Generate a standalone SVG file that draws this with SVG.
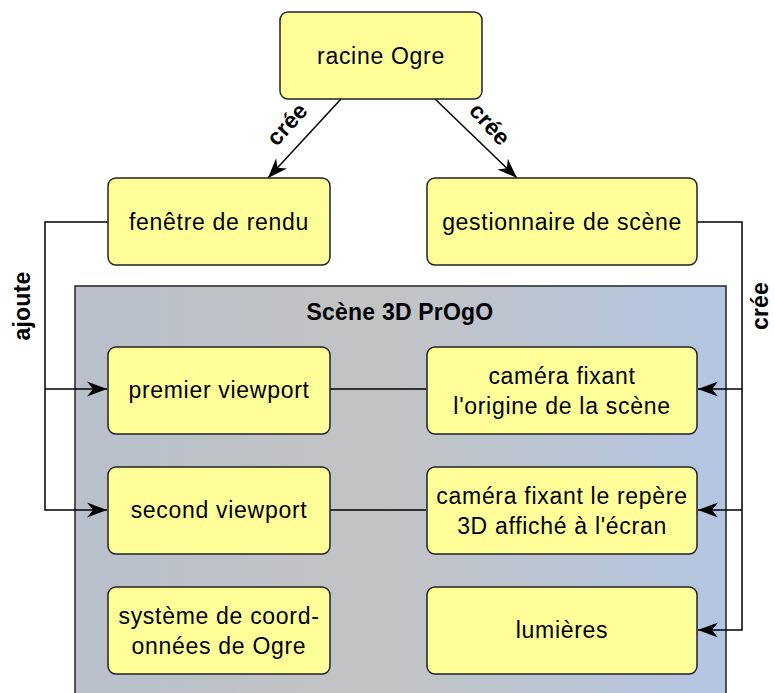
<svg xmlns="http://www.w3.org/2000/svg" width="774" height="693" viewBox="0 0 774 693">
<defs>
<linearGradient id="cg" x1="0" y1="0" x2="1" y2="0">
<stop offset="0" stop-color="#b8c0cc"/>
<stop offset="0.45" stop-color="#c3c3c3"/>
<stop offset="1" stop-color="#b3c6e2"/>
</linearGradient>
<marker id="ah" viewBox="-21 -8 22 16" refX="0" refY="0" markerWidth="22" markerHeight="16" markerUnits="userSpaceOnUse" orient="auto">
<path d="M0,0 L-20,-7.5 L-14,0 L-20,7.5 Z" fill="#000"/>
</marker>
<style>
.n rect{fill:#ffff99;stroke:#222;stroke-width:1.5}
.t{font-family:"Liberation Sans",Arial,sans-serif;font-size:23px;fill:#000;text-anchor:middle;letter-spacing:0.7px}
.b{font-weight:bold;letter-spacing:0.2px}
.c{fill:none;stroke:#000;stroke-width:1.5}
</style>
</defs>
<rect width="774" height="693" fill="#fff"/>
<g id="scene">
<rect x="75" y="286" width="651" height="420" fill="url(#cg)" stroke="#222" stroke-width="1.5"/>
<text class="t b" x="400" y="320">Scène 3D PrOgO</text>
</g>
<g id="connectors">
<path class="c" d="M341,99 L268,178" marker-end="url(#ah)"/>
<path class="c" d="M435,99 L517,178" marker-end="url(#ah)"/>
<path class="c" d="M108,222 H45 V510 H107" marker-end="url(#ah)"/>
<path class="c" d="M45,389 H107" marker-end="url(#ah)"/>
<path class="c" d="M697,222 H742 V630 H698" marker-end="url(#ah)"/>
<path class="c" d="M742,389 H698" marker-end="url(#ah)"/>
<path class="c" d="M742,510 H698" marker-end="url(#ah)"/>
<path class="c" d="M330,389 H426"/>
<path class="c" d="M330,510 H426"/>
<text class="t b" transform="translate(287,124) rotate(-48)" dy="8">crée</text>
<text class="t b" transform="translate(490,124) rotate(48)" dy="8">crée</text>
<text class="t b" transform="translate(22,306) rotate(-90)" dy="8">ajoute</text>
<text class="t b" transform="translate(761,306) rotate(-90)" dy="7">crée</text>
</g>
<g id="racine" class="n"><rect x="280" y="12" width="202" height="87" rx="8"/><text class="t" x="381" y="64">racine Ogre</text></g>
<g id="fenetre" class="n"><rect x="108" y="178" width="222" height="87" rx="8"/><text class="t" x="219" y="230">fenêtre de rendu</text></g>
<g id="gestionnaire" class="n"><rect x="427" y="178" width="270" height="87" rx="8"/><text class="t" x="562" y="230">gestionnaire de scène</text></g>
<g id="premier" class="n"><rect x="108" y="347" width="222" height="87" rx="8"/><text class="t" x="219" y="398">premier viewport</text></g>
<g id="camera1" class="n"><rect x="427" y="347" width="270" height="87" rx="8"/><text class="t" x="562" y="384">caméra fixant</text><text class="t" x="562" y="414">l'origine de la scène</text></g>
<g id="second" class="n"><rect x="108" y="467" width="222" height="87" rx="8"/><text class="t" x="219" y="518">second viewport</text></g>
<g id="camera2" class="n"><rect x="427" y="467" width="270" height="87" rx="8"/><text class="t" x="562" y="504">caméra fixant le repère</text><text class="t" x="562" y="534">3D affiché à l'écran</text></g>
<g id="systeme" class="n"><rect x="108" y="587" width="222" height="87" rx="8"/><text class="t" x="219" y="624">système de coord-</text><text class="t" x="219" y="654">onnées de Ogre</text></g>
<g id="lumieres" class="n"><rect x="427" y="587" width="270" height="87" rx="8"/><text class="t" x="562" y="638">lumières</text></g>
</svg>
